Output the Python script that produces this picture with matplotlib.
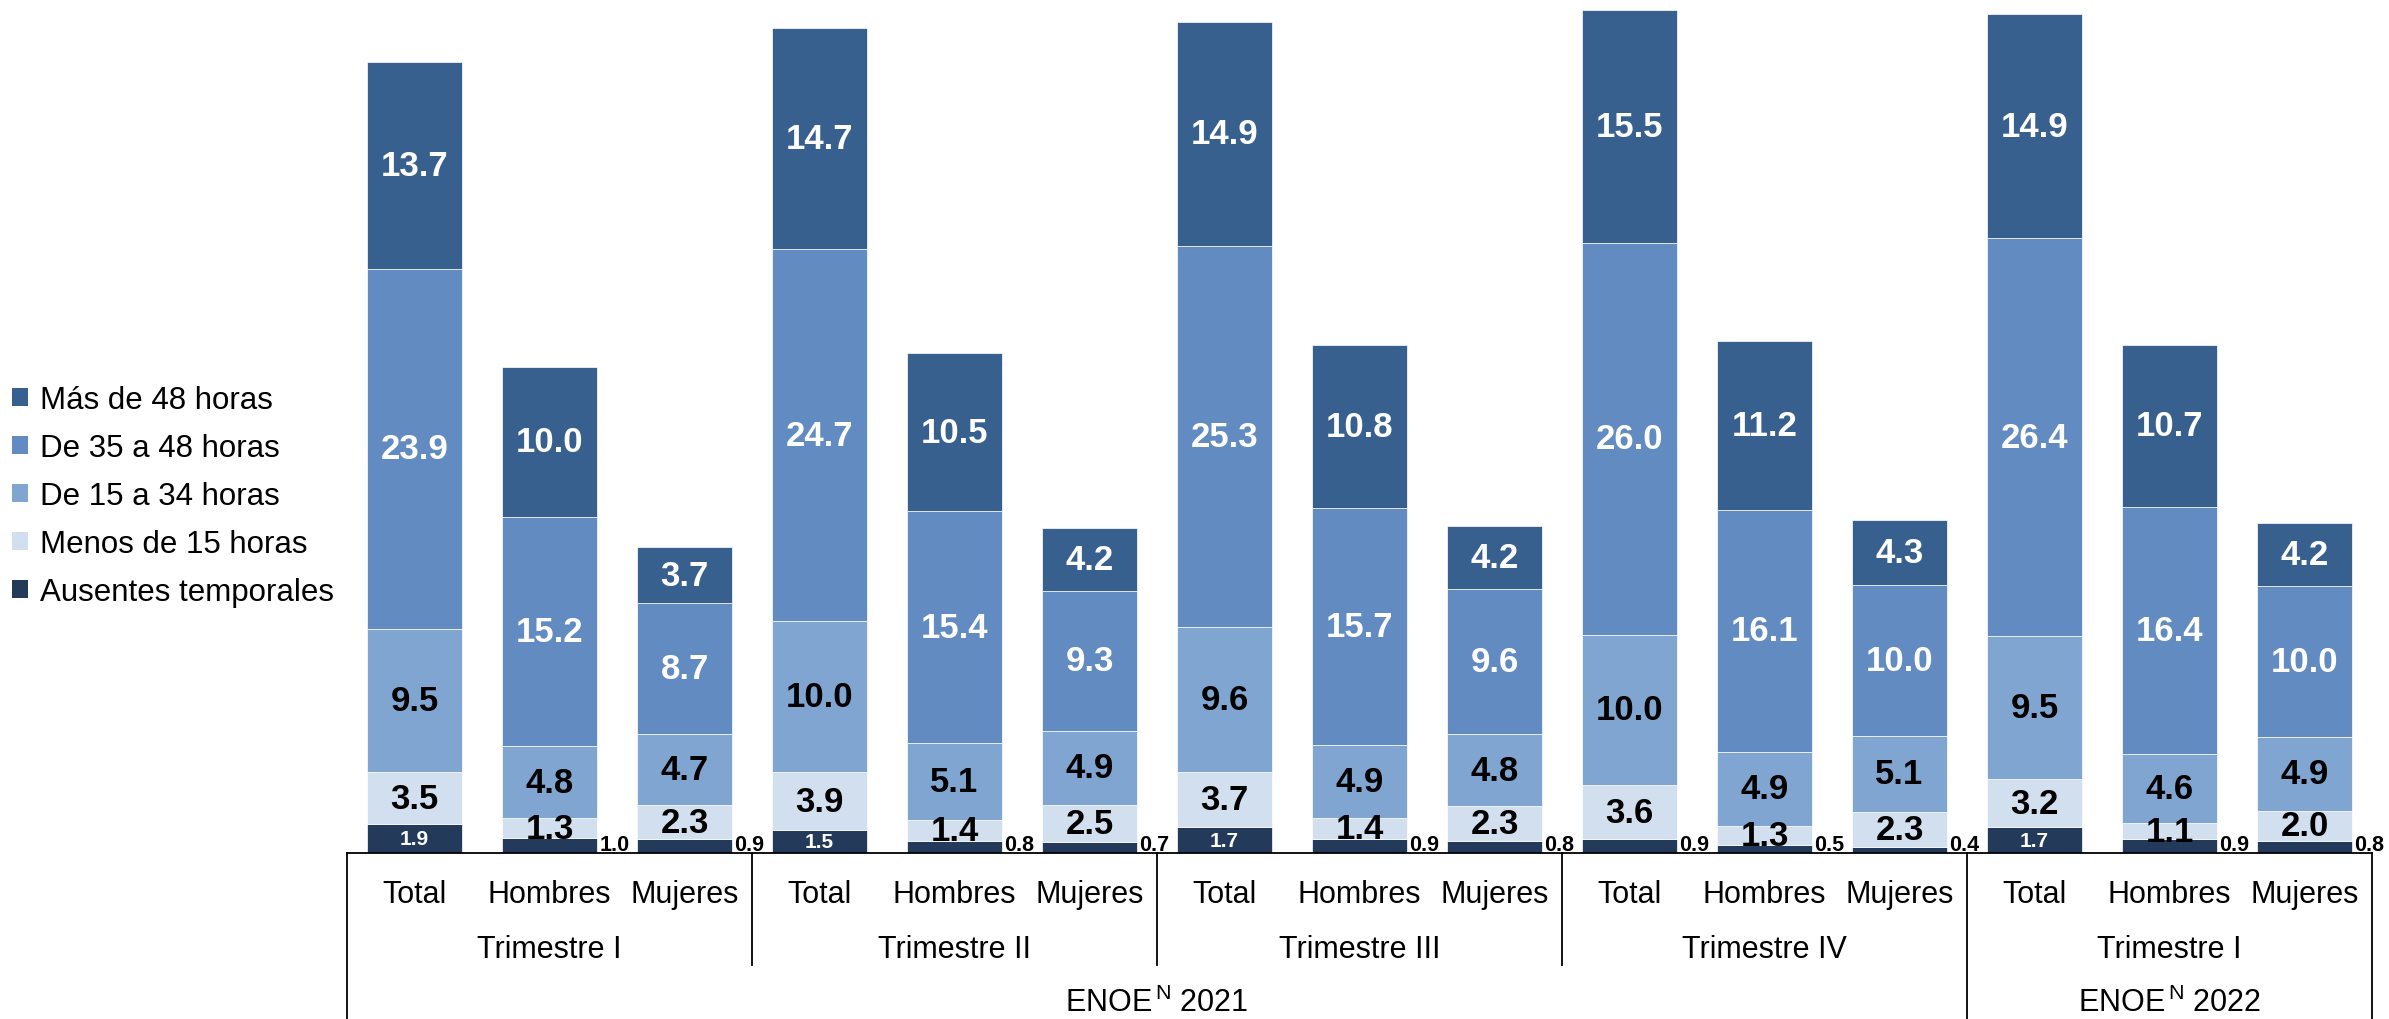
import numpy as np
import matplotlib
matplotlib.use("Agg")
import matplotlib.pyplot as plt
from matplotlib.patches import Patch
import matplotlib.transforms as mtransforms

plt.rcParams['font.family'] = ['Liberation Sans', 'DejaVu Sans']
plt.rcParams['mathtext.fontset'] = 'custom'
plt.rcParams['mathtext.rm'] = 'Liberation Sans'

# data, order: Total, Hombres, Mujeres for each trimestre
sexo       = ["Total", "Hombres", "Mujeres"]
trimestres = ["Trimestre I", "Trimestre II", "Trimestre III", "Trimestre IV", "Trimestre I"]
anios      = ["ENOE$^{\\,\\mathrm{N}}$ 2021", "ENOE$^{\\,\\mathrm{N}}$ 2022"]

ausentes = [1.9, 1.0, 0.9, 1.5, 0.8, 0.7, 1.7, 0.9, 0.8, 0.9, 0.5, 0.4, 1.7, 0.9, 0.8]
menos15  = [3.5, 1.3, 2.3, 3.9, 1.4, 2.5, 3.7, 1.4, 2.3, 3.6, 1.3, 2.3, 3.2, 1.1, 2.0]
de15a34  = [9.5, 4.8, 4.7, 10.0, 5.1, 4.9, 9.6, 4.9, 4.8, 10.0, 4.9, 5.1, 9.5, 4.6, 4.9]
de35a48  = [23.9, 15.2, 8.7, 24.7, 15.4, 9.3, 25.3, 15.7, 9.6, 26.0, 16.1, 10.0, 26.4, 16.4, 10.0]
mas48    = [13.7, 10.0, 3.7, 14.7, 10.5, 4.2, 14.9, 10.8, 4.2, 15.5, 11.2, 4.3, 14.9, 10.7, 4.2]

series = [ausentes, menos15, de15a34, de35a48, mas48]
nombres = ["Ausentes temporales", "Menos de 15 horas", "De 15 a 34 horas",
           "De 35 a 48 horas", "Más de 48 horas"]
colores = ["#233A5A", "#D1DFEF", "#7FA5D0", "#628CC1", "#37608F"]
txtcol  = ["white", "black", "black", "white", "white"]

W, H = 2389, 1020
fig = plt.figure(figsize=(W/100, H/100), dpi=100)
ax = fig.add_axes([347/W, 1-854/H, (2372-347)/W, 854/H])
ax.set_xlim(-0.5, 14.5)
ax.set_ylim(0, 56.7)

x = np.arange(len(ausentes))
bw = 0.7
bottom = np.zeros(len(x))
for k, s in enumerate(series):
    s = np.array(s)
    ax.bar(x, s, bw, bottom=bottom, color=colores[k], edgecolor='white', linewidth=0.5)
    for i in range(len(x)):
        if k == 0:
            if s[i] >= 1.5:
                ax.text(x[i], bottom[i]+s[i]/2, f"{s[i]:.1f}", ha='center', va='center',
                        color='white', fontsize=15, fontweight='bold')
            else:
                ax.text(x[i]+bw/2+0.02, 0.2, f"{s[i]:.1f}", ha='left', va='baseline',
                        color='black', fontsize=15.5, fontweight='bold')
        else:
            ax.text(x[i], bottom[i]+s[i]/2, f"{s[i]:.1f}", ha='center', va='center',
                    color=txtcol[k], fontsize=25, fontweight='bold')
    bottom = bottom + s

for sp in ['top', 'right', 'left']:
    ax.spines[sp].set_visible(False)
ax.spines['bottom'].set_linewidth(1.3)
ax.set_xticks([])
ax.set_yticks([])

trans = mtransforms.blended_transform_factory(ax.transData, ax.transAxes)
def ypx(p):
    return (854 - p)/854

# category labels
for i in range(len(x)):
    ax.text(x[i], ypx(895), sexo[i % 3], transform=trans, ha='center', va='center', fontsize=22)
for j, t in enumerate(trimestres):
    ax.text(3*j+1, ypx(950), t, transform=trans, ha='center', va='center', fontsize=22)
ax.text(5.5, ypx(1003), anios[0], transform=trans, ha='center', va='center', fontsize=22)
ax.text(13, ypx(1003), anios[1], transform=trans, ha='center', va='center', fontsize=22)

# box lines
for xv in [2.5, 5.5, 8.5]:
    ax.plot([xv, xv], [0, ypx(966)], transform=trans, color='black', lw=1.3, clip_on=False)
for xv in [-0.5, 11.5, 14.5]:
    ax.plot([xv, xv], [0, ypx(1025)], transform=trans, color='black', lw=1.3, clip_on=False)

handles = [Patch(facecolor=colores[k], label=nombres[k]) for k in range(4, -1, -1)]
fig.legend(handles=handles, loc='center left', bbox_to_anchor=(12/W, 1-497/H),
           frameon=False, fontsize=22.5, handlelength=0.5, handleheight=0.5,
           handletextpad=0.38, labelspacing=0.58, borderpad=0, borderaxespad=0)

plt.savefig("out.png", dpi=100)
